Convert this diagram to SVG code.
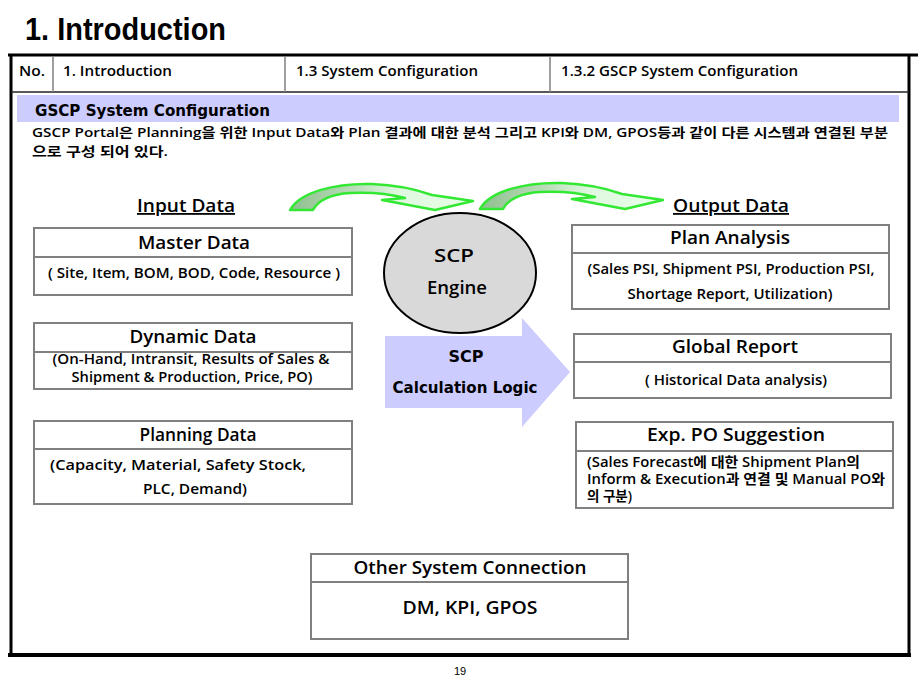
<svg xmlns="http://www.w3.org/2000/svg" width="920" height="690" viewBox="0 0 920 690">
<style>
.t{font-family:"Open Sans","Noto Sans CJK KR",sans-serif;font-weight:600;fill:#000}
.ttl{font-size:18px;text-anchor:middle}
.sub{font-size:14px;text-anchor:middle}
.box{fill:#fff;stroke:#808080;stroke-width:2}
.div{stroke:#808080;stroke-width:2}
.hd{font-family:"Open Sans",sans-serif;font-weight:600;font-size:14px}
.v{font-family:"DejaVu Sans",Verdana,sans-serif;font-weight:bold}
.garr{stroke:#33e833;stroke-width:2.5;stroke-linejoin:round}
</style>
<defs>
<linearGradient id="gg" x1="0" y1="0" x2="1" y2="0">
<stop offset="0" stop-color="#8fbf8f"/>
<stop offset="0.35" stop-color="#b9dcb9"/>
<stop offset="0.6" stop-color="#e0f8e0"/>
<stop offset="1" stop-color="#e8ffe8"/>
</linearGradient>
</defs>
<rect width="920" height="690" fill="#fff"/>
<text x="25" y="40" font-family="Liberation Sans Narrow,Liberation Sans,sans-serif" font-weight="bold" font-size="32" textLength="201" lengthAdjust="spacingAndGlyphs">1. Introduction</text>
<g id="frame">
<line x1="8" y1="55" x2="918" y2="55" stroke="#000" stroke-width="3"/>
<line x1="11" y1="54" x2="11" y2="657" stroke="#000" stroke-width="3"/>
<line x1="909" y1="54" x2="909" y2="657" stroke="#000" stroke-width="3"/>
<line x1="8" y1="655" x2="911" y2="655" stroke="#000" stroke-width="4"/>
<line x1="11" y1="92" x2="909" y2="92" stroke="#222" stroke-width="1.5"/>
<line x1="53" y1="56" x2="53" y2="92" stroke="#808080" stroke-width="1.5"/>
<line x1="285" y1="56" x2="285" y2="92" stroke="#808080" stroke-width="1.5"/>
<line x1="550" y1="56" x2="550" y2="92" stroke="#808080" stroke-width="1.5"/>
<text class="hd" x="19" y="76" textLength="26" lengthAdjust="spacingAndGlyphs">No.</text>
<text class="hd" x="63" y="76" textLength="109" lengthAdjust="spacingAndGlyphs">1. Introduction</text>
<text class="hd" x="296" y="76" textLength="182" lengthAdjust="spacingAndGlyphs">1.3 System Configuration</text>
<text class="hd" x="561" y="76" textLength="237" lengthAdjust="spacingAndGlyphs">1.3.2 GSCP System Configuration</text>
<rect x="17" y="95" width="882" height="27" fill="#ccccff"/>
<text class="v" x="35" y="116" font-size="15" textLength="235" lengthAdjust="spacingAndGlyphs">GSCP System Configuration</text>
<text class="t" x="32" y="137" font-size="13" textLength="856" lengthAdjust="spacingAndGlyphs">GSCP Portal은 Planning을 위한 Input Data와 Plan 결과에 대한 분석 그리고 KPI와 DM, GPOS등과 같이 다른 시스템과 연결된 부분</text>
<text class="t" x="32" y="156" font-size="13" textLength="136" lengthAdjust="spacingAndGlyphs">으로 구성 되어 있다.</text>
<text class="t ttl" x="186" y="212" text-decoration="underline" textLength="98" lengthAdjust="spacingAndGlyphs">Input Data</text>
<text class="t ttl" x="731" y="212" text-decoration="underline" textLength="116" lengthAdjust="spacingAndGlyphs">Output Data</text>
<text x="460" y="675" font-family="Liberation Sans,sans-serif" font-size="11" text-anchor="middle">19</text>
</g>
<g id="connectors">
<path class="garr" fill="url(#gg)" d="M290,210 C300,192 335,183 372,184 C398,185 418,190 432,195 L473,201 L435,210 L382,200 L405,198 C390,194 370,192 350,193 C332,194 318,200 313,210 Z"/>
<path class="garr" fill="url(#gg)" transform="translate(190,-1)" d="M290,210 C300,192 335,183 372,184 C398,185 418,190 432,195 L473,201 L435,210 L382,200 L405,198 C390,194 370,192 350,193 C332,194 318,200 313,210 Z"/>
</g>
<g id="engine">
<ellipse cx="460" cy="273" rx="76" ry="60" fill="#d9d9d9" stroke="#000" stroke-width="2"/>
<text class="t ttl" x="454" y="262" textLength="40" lengthAdjust="spacingAndGlyphs">SCP</text>
<text class="t ttl" x="457" y="294" textLength="60" lengthAdjust="spacingAndGlyphs">Engine</text>
</g>
<g id="calc">
<path d="M385,336 L522,336 L522,318 L570,372 L522,427 L522,408 L385,408 Z" fill="#ccccff"/>
<text class="v" x="466" y="362" font-size="15" text-anchor="middle" textLength="35" lengthAdjust="spacingAndGlyphs">SCP</text>
<text class="v" x="465" y="393" font-size="15" text-anchor="middle" textLength="145" lengthAdjust="spacingAndGlyphs">Calculation Logic</text>
</g>
<g id="master">
<rect class="box" x="34" y="228" width="318" height="67"/>
<line class="div" x1="34" y1="257" x2="352" y2="257"/>
<text class="t ttl" x="194" y="249" textLength="112" lengthAdjust="spacingAndGlyphs">Master Data</text>
<text class="t sub" x="194" y="278" textLength="292" lengthAdjust="spacingAndGlyphs">( Site, Item, BOM, BOD, Code, Resource )</text>
</g>
<g id="dynamic">
<rect class="box" x="34" y="323" width="318" height="66"/>
<line class="div" x1="34" y1="352" x2="352" y2="352"/>
<text class="t ttl" x="193" y="343" textLength="127" lengthAdjust="spacingAndGlyphs">Dynamic Data</text>
<text class="t sub" x="191" y="364" font-size="12.5" textLength="277" lengthAdjust="spacingAndGlyphs">(On-Hand, Intransit, Results of Sales &amp;</text>
<text class="t sub" x="192" y="382" font-size="12.5" textLength="241" lengthAdjust="spacingAndGlyphs">Shipment &amp; Production, Price, PO)</text>
</g>
<g id="planning">
<rect class="box" x="34" y="421" width="318" height="83"/>
<line class="div" x1="34" y1="449" x2="352" y2="449"/>
<text class="t ttl" x="198" y="441" textLength="117" lengthAdjust="spacingAndGlyphs">Planning Data</text>
<text class="t sub" x="178" y="470" textLength="256" lengthAdjust="spacingAndGlyphs">(Capacity, Material, Safety Stock,</text>
<text class="t sub" x="195" y="494" textLength="104" lengthAdjust="spacingAndGlyphs">PLC, Demand)</text>
</g>
<g id="plan">
<rect class="box" x="572" y="225" width="317" height="84"/>
<line class="div" x1="572" y1="253" x2="889" y2="253"/>
<text class="t ttl" x="730" y="244" textLength="120" lengthAdjust="spacingAndGlyphs">Plan Analysis</text>
<text class="t sub" x="731" y="274" textLength="287" lengthAdjust="spacingAndGlyphs">(Sales PSI, Shipment PSI, Production PSI,</text>
<text class="t sub" x="730" y="299" textLength="205" lengthAdjust="spacingAndGlyphs">Shortage Report, Utilization)</text>
</g>
<g id="global">
<rect class="box" x="574" y="334" width="317" height="64"/>
<line class="div" x1="574" y1="362" x2="891" y2="362"/>
<text class="t ttl" x="735" y="353" textLength="126" lengthAdjust="spacingAndGlyphs">Global Report</text>
<text class="t sub" x="736" y="385" textLength="182" lengthAdjust="spacingAndGlyphs">( Historical Data analysis)</text>
</g>
<g id="expo">
<rect class="box" x="576" y="422" width="317" height="86"/>
<line class="div" x1="576" y1="451" x2="893" y2="451"/>
<text class="t ttl" x="736" y="441" textLength="178" lengthAdjust="spacingAndGlyphs">Exp. PO Suggestion</text>
<text class="t" x="587" y="467" font-size="13.5" textLength="273" lengthAdjust="spacingAndGlyphs">(Sales Forecast에 대한 Shipment Plan의</text>
<text class="t" x="587" y="484" font-size="13.5" textLength="298" lengthAdjust="spacingAndGlyphs">Inform &amp; Execution과 연결 및 Manual PO와</text>
<text class="t" x="587" y="501" font-size="13.5">의 구분)</text>
</g>
<g id="other">
<rect class="box" x="311" y="554" width="317" height="85"/>
<line class="div" x1="311" y1="582" x2="628" y2="582"/>
<text class="t ttl" x="470" y="574" textLength="233" lengthAdjust="spacingAndGlyphs">Other System Connection</text>
<text class="t ttl" x="470" y="614" textLength="135" lengthAdjust="spacingAndGlyphs">DM, KPI, GPOS</text>
</g>
</svg>
